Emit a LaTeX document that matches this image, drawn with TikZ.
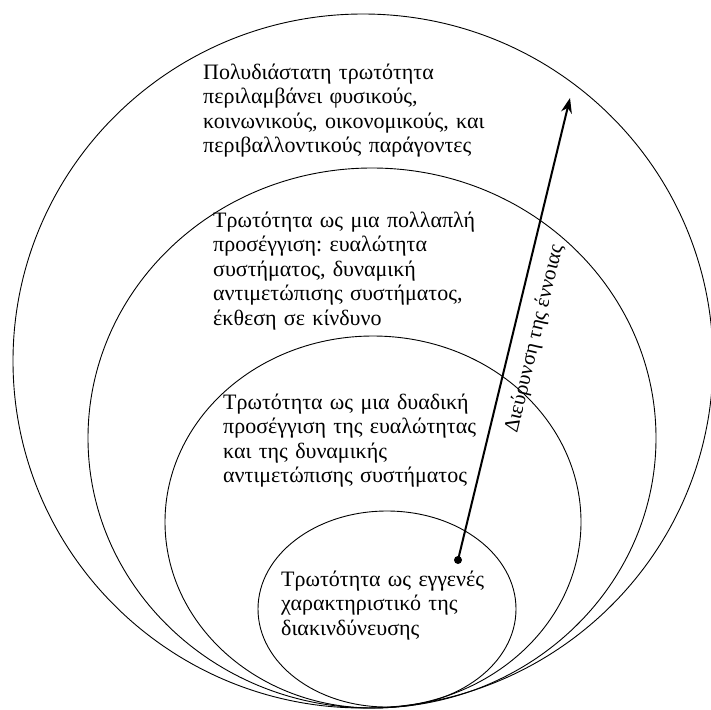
\documentclass[tikz,border=0pt]{standalone}
\usepackage{fontspec}
\setmainfont{Liberation Serif}
\usetikzlibrary{arrows.meta}
\frenchspacing

\begin{document}
\begin{tikzpicture}[x=1pt,y=-1pt,
        ring/.style={draw,line width=0.9pt},
        ringtext/.style={anchor=base west,inner sep=0pt,align=left,text width=330pt,font=\fontsize{22}{24.5}\selectfont},
        dot/.style={circle,fill,inner sep=0pt,minimum size=8pt}]
        \useasboundingbox (0,0) rectangle (711,709);
        \draw[ring] (363,361) ellipse [x radius=350pt,y radius=347pt];
        \draw[ring] (372,438) ellipse [x radius=284pt,y radius=270pt];
        \draw[ring] (373,522) ellipse [x radius=208pt,y radius=186pt];
        \draw[ring] (387,609) ellipse [x radius=129pt,y radius=98pt];
        \node[ringtext] (outer) at (203,79) {Πολυδιάστατη τρωτότητα\\περιλαμβάνει φυσικούς,\\κοινωνικούς, οικονομικούς, και\\περιβαλλοντικούς παράγοντες};
        \node[ringtext] (multi) at (213,227) {Τρωτότητα ως μια πολλαπλή\\προσέγγιση: ευαλώτητα\\συστήματος, δυναμική\\αντιμετώπισης συστήματος,\\έκθεση σε κίνδυνο};
        \node[ringtext] (dual) at (223,409) {Τρωτότητα ως μια δυαδική\\προσέγγιση της ευαλώτητας\\και της δυναμικής\\αντιμετώπισης συστήματος};
        \node[ringtext] (inner) at (281,586) {Τρωτότητα ως εγγενές\\χαρακτηριστικό της\\διακινδύνευσης};
        \node[dot] (start) at (458,560) {};
        \coordinate (tip) at (570,98);
        \draw[line width=2pt,-{Stealth[length=15pt,width=11pt]}] (start.center) -- node[pos=0.49,sloped,below=12pt,inner sep=0pt,font=\fontsize{21}{24}\selectfont] (widen) {Διεύρυνση της έννοιας} (tip);
    \end{tikzpicture}
\end{document}
